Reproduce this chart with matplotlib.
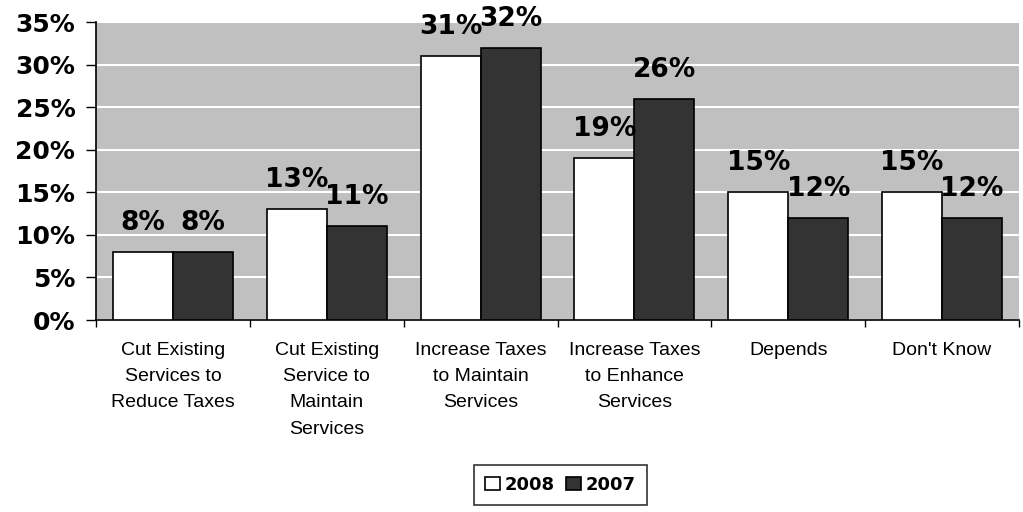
import matplotlib.pyplot as plt
import numpy as np

categories = ['Cut Existing\nServices to\nReduce Taxes',
              'Cut Existing\nService to\nMaintain\nServices',
              'Increase Taxes\nto Maintain\nServices',
              'Increase Taxes\nto Enhance\nServices',
              'Depends',
              "Don't Know"]
vals_2008 = [8, 13, 31, 19, 15, 15]
vals_2007 = [8, 11, 32, 26, 12, 12]
yticks = [0, 5, 10, 15, 20, 25, 30, 35]

plt.rcParams['font.family'] = ['Liberation Sans', 'DejaVu Sans']
bold_font = {'family': 'DejaVu Sans', 'weight': 'bold'}

fig = plt.figure(figsize=(10.23, 5.12), dpi=100)
ax = fig.add_axes([0.094, 0.375, 0.902, 0.582])
ax.set_facecolor('#c0c0c0')

x = np.arange(len(categories))
w = 0.39
b1 = ax.bar(x - w/2, vals_2008, w, color='white', edgecolor='black', linewidth=1.2, label='2008', zorder=3)
b2 = ax.bar(x + w/2, vals_2007, w, color='#333333', edgecolor='black', linewidth=1.2, label='2007', zorder=3)

for bars, vals in [(b1, vals_2008), (b2, vals_2007)]:
    for r, v in zip(bars, vals):
        ax.annotate(f'{v}%', (r.get_x() + r.get_width()/2, v), xytext=(0, 11.5),
                    textcoords='offset points', ha='center', va='bottom',
                    fontsize=19, zorder=4, **bold_font)

ax.set_ylim(0, 35)
ax.set_xlim(-0.5, len(categories) - 0.5)
ax.set_yticks(yticks)
ax.set_yticklabels([f'{t}%' for t in yticks], fontsize=18, **bold_font)
ax.yaxis.grid(True, color='white', linewidth=1.5, zorder=0)
ax.set_axisbelow(True)

ax.set_xticks(x)
ax.set_xticklabels(categories, fontsize=14, linespacing=1.7, va='top')
ax.tick_params(axis='x', which='major', length=0, pad=16)
ax.set_xticks(np.arange(-0.5, len(categories)), minor=True)
ax.tick_params(axis='x', which='minor', length=5, width=1, direction='out')
ax.tick_params(axis='y', length=7, width=1, direction='out', pad=8)

for s in ['top', 'right']:
    ax.spines[s].set_visible(False)
ax.spines['left'].set_linewidth(1.2)
ax.spines['bottom'].set_linewidth(1.2)

leg = fig.legend(handles=[b1, b2], loc='center', bbox_to_anchor=(0.548, 0.053), ncol=2,
                 frameon=True, fancybox=False, edgecolor='black',
                 prop={'size': 13, 'weight': 'bold', 'family': 'DejaVu Sans'},
                 handlelength=0.8, handleheight=0.8,
                 handletextpad=0.3, columnspacing=0.6, borderpad=0.6)
leg.get_frame().set_linewidth(1.2)

fig.savefig('out.png', dpi=100)
